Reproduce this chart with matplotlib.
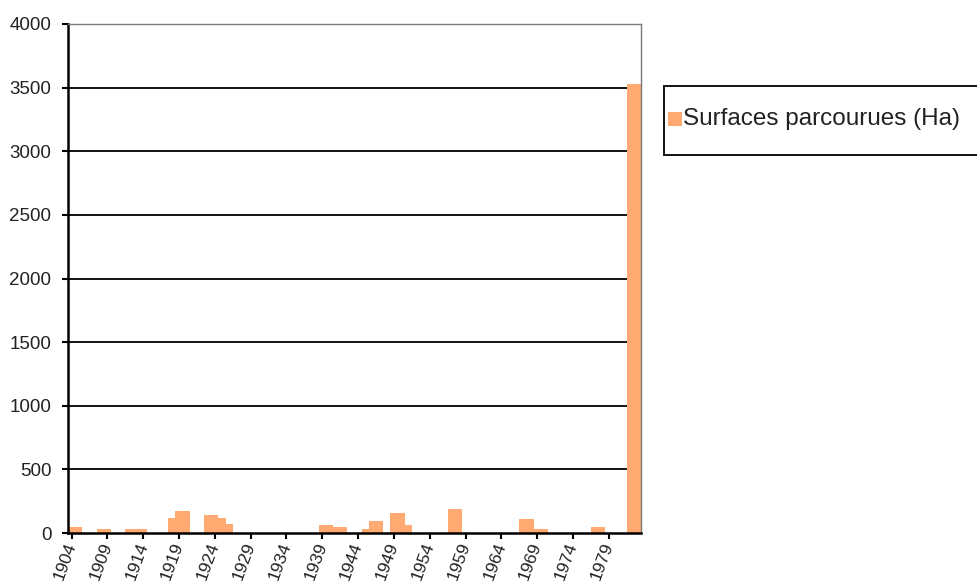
import matplotlib
matplotlib.use("Agg")
import matplotlib.pyplot as plt
from matplotlib.patches import Rectangle

plt.rcParams['font.family'] = ['Liberation Sans', 'DejaVu Sans']

# burned area per year, 1904 -> 1983
years = list(range(1904, 1984))
surfaces = [
    50, 50, 0, 0, 30, 30, 0, 0, 30, 30,          # 1904-1913
    30, 0, 0, 0, 115, 175, 175, 0, 0, 143,       # 1914-1923
    143, 115, 68, 0, 0, 0, 0, 0, 0, 0,           # 1924-1933
    0, 0, 0, 0, 0, 65, 65, 50, 50, 0,            # 1934-1943
    0, 30, 95, 95, 0, 160, 160, 63, 0, 0,        # 1944-1953
    0, 0, 0, 190, 190, 0, 0, 0, 0, 0,            # 1954-1963
    0, 0, 0, 110, 110, 30, 30, 0, 0, 0,          # 1964-1973
    0, 0, 0, 50, 50, 0, 0, 0, 3530, 3530,        # 1974-1983
]
yticks = [0, 500, 1000, 1500, 2000, 2500, 3000, 3500, 4000]
label = "Surfaces parcourues (Ha)"
bar_color = "#FFAA70"

W, H = 977, 583
fig = plt.figure(figsize=(W / 100, H / 100), dpi=100)
ax = fig.add_axes([68 / W, 1 - 533 / H, (641 - 68) / W, (533 - 24) / H])

pos = list(range(len(years)))
ax.hlines(yticks[1:-1], -0.5, len(years) - 0.5, color="black", lw=1.3, zorder=1)
ax.bar(pos, surfaces, width=1.0, color=bar_color, edgecolor="none",
       zorder=2, clip_on=False)

ax.set_xlim(-0.5, len(years) - 0.5)
ax.set_ylim(0, 4000)
ax.set_yticks(yticks)
ax.set_yticklabels([str(v) for v in yticks], fontsize=13.5, color="#222222")
ax.set_xticks(pos[::5])
ax.set_xticklabels([str(y) for y in years[::5]], fontsize=12.5, color="#222222",
                   rotation=70, ha="right", va="center", rotation_mode="anchor")

ax.tick_params(axis="y", direction="out", length=4, width=1.5, pad=8)
ax.tick_params(axis="x", direction="out", length=4, width=1.5, pad=3)

for side in ("left", "bottom"):
    ax.spines[side].set_color("black")
    ax.spines[side].set_linewidth(1.8)
for side in ("top", "right"):
    ax.spines[side].set_color("#7a7a7a")
    ax.spines[side].set_linewidth(1.0)

# legend box, running off the right edge
fig.patches.append(Rectangle((664 / W, 1 - 155 / H), 330 / W, 69 / H,
                             transform=fig.transFigure, facecolor="white",
                             edgecolor="black", lw=1.3))
fig.patches.append(Rectangle((668 / W, 1 - 126 / H), 14 / W, 14 / H,
                             transform=fig.transFigure, facecolor=bar_color,
                             edgecolor="none"))
fig.text(683 / W, 1 - 119 / H, label, fontsize=17.5, color="#222222",
         ha="left", va="center")

fig.savefig("out.png", dpi=100)
